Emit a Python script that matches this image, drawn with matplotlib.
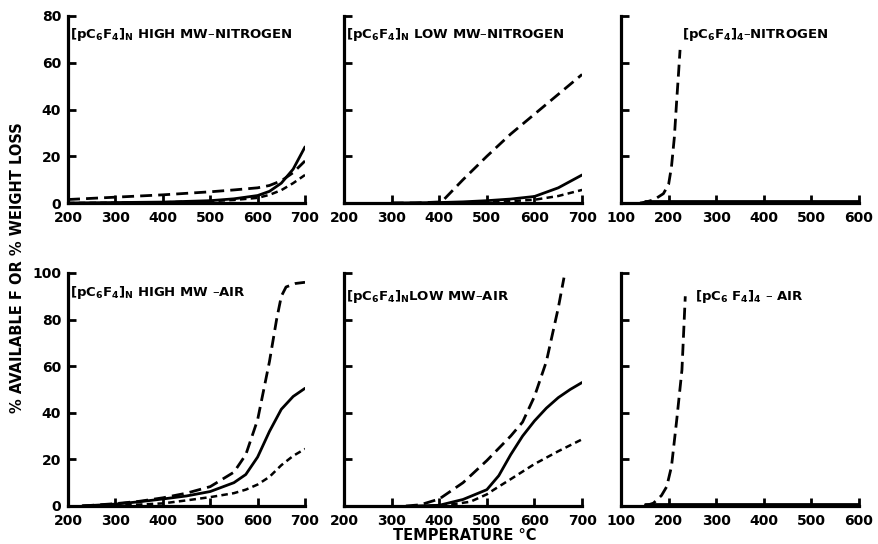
import matplotlib
matplotlib.use("Agg")
import matplotlib.pyplot as plt

plt.rcParams['font.family'] = ['DejaVu Sans']
plt.rcParams['font.weight'] = 'bold'
plt.rcParams['mathtext.fontset'] = 'dejavusans'
plt.rcParams['mathtext.default'] = 'bf'

# ---- data ----
# top left: high MW polymer, nitrogen
t_hmn = [200, 300, 400, 500, 550, 600, 625, 650, 675, 700]
hmn_solid = [0, 0.2, 0.4, 1.0, 1.8, 3.2, 5.0, 8.5, 14.5, 24]
hmn_long = [1.5, 2.5, 3.5, 4.8, 5.6, 6.5, 7.5, 9.5, 13, 18]
hmn_short = [0, 0.1, 0.3, 0.8, 1.3, 2.2, 3.5, 5.5, 8.5, 12]

# top middle: low MW polymer, nitrogen
t_lmn_long = [300, 350, 405, 450, 500, 550, 600, 650, 700]
lmn_long = [0, 0, 0.5, 10, 20, 29.5, 38, 46.5, 55]
t_lmn_solid = [300, 400, 450, 500, 550, 600, 650, 700]
lmn_solid = [0, 0.2, 0.5, 1.0, 1.7, 2.8, 6.5, 12]
t_lmn_short = [400, 500, 550, 600, 650, 700]
lmn_short = [0, 0.4, 0.8, 1.4, 3.0, 5.6]

# top right: tetramer, nitrogen
t_tn_long = [140, 154, 170, 189, 200, 206, 212, 217, 221, 224]
tn_long = [0, 0.5, 1.5, 4, 8, 15.5, 28, 44, 56, 65.5]
t_tn_base = [150, 600]
tn_solid = [0.9, 0.9]
tn_short = [0.4, 0.4]

# bottom left: high MW polymer, air
t_hma_long = [230, 300, 350, 400, 450, 500, 550, 575, 600, 625, 640, 650, 660, 680, 700]
hma_long = [0, 1, 2, 3.5, 5.5, 8.3, 14.5, 22, 37, 62, 80, 90, 94, 95.5, 96]
t_hma = [230, 300, 350, 400, 450, 500, 550, 575, 600, 625, 650, 675, 700]
hma_solid = [0, 0.8, 1.8, 3.0, 4.3, 6.2, 10, 13.5, 21, 32, 41.5, 47, 50.5]
hma_short = [0, 0.3, 0.6, 1.1, 2.4, 3.8, 5.5, 7.0, 9.2, 12.5, 17.5, 21.5, 24.5]

# bottom middle: low MW polymer, air
t_lma_long = [330, 360, 400, 450, 500, 550, 575, 600, 625, 650, 662]
lma_long = [0, 0.5, 3, 10, 19.5, 30, 36, 47, 62, 85, 98]
t_lma_solid = [350, 400, 450, 500, 525, 550, 575, 600, 625, 650, 675, 700]
lma_solid = [0, 0.3, 2.8, 7, 13, 22, 30, 36.5, 42, 46.5, 50, 53]
t_lma_short = [380, 420, 465, 500, 514, 550, 600, 650, 700]
lma_short = [0, 0.5, 1.8, 5, 6.9, 11.5, 18, 23.5, 28.6]

# bottom right: tetramer, air
t_ta_long = [150, 168, 185, 196, 206, 217, 228, 235]
ta_long = [0, 1.2, 4.5, 8.3, 16.9, 36.9, 58.4, 90]
t_ta_base = [150, 600]
ta_solid = [0.9, 0.9]
ta_short = [0.4, 0.4]

poly_ticks = [200, 300, 400, 500, 600, 700]
tetra_ticks = [100, 200, 300, 400, 500, 600]

LONG = (4.3, 2.2)
SHORT = (2.6, 1.7)

fig = plt.figure(figsize=(8.79, 5.44), dpi=100)

cols = [(0.0774, 0.2696), (0.3914, 0.2708), (0.7065, 0.2708)]
top_row = (0.6268, 0.3438)
bot_row = (0.0699, 0.4283)


def make_ax(col, row, xticks, ymax, ylabels):
    ax = fig.add_axes([cols[col][0], row[0], cols[col][1], row[1]])
    ax.set_xlim(xticks[0], xticks[-1])
    ax.set_ylim(0, ymax)
    ax.set_xticks(xticks)
    ax.set_yticks(range(0, ymax + 1, 20))
    for s in ['top', 'right']:
        ax.spines[s].set_visible(False)
    for s in ['left', 'bottom']:
        ax.spines[s].set_linewidth(2.3)
    ax.tick_params(direction='in', length=6, width=2, labelsize=10)
    ax.tick_params(axis='x', pad=6)
    ax.tick_params(axis='y', pad=5)
    if not ylabels:
        ax.set_yticklabels([])
    return ax


def curves(ax, tl, yl, ts, ys, tsh, ysh):
    ax.plot(ts, ys, color='black', lw=2.0, solid_capstyle='round')
    ax.plot(tl, yl, color='black', lw=2.0, dashes=LONG)
    ax.plot(tsh, ysh, color='black', lw=1.8, dashes=SHORT)


ax1 = make_ax(0, top_row, poly_ticks, 80, True)
curves(ax1, t_hmn, hmn_long, t_hmn, hmn_solid, t_hmn, hmn_short)
ax1.text(0.01, 0.90, r"$\left[\mathrm{pC_6F_4}\right]_{\mathrm{N}}$ HIGH MW–NITROGEN",
         transform=ax1.transAxes, fontsize=9.5, va='center')

ax2 = make_ax(1, top_row, poly_ticks, 80, False)
curves(ax2, t_lmn_long, lmn_long, t_lmn_solid, lmn_solid, t_lmn_short, lmn_short)
ax2.text(0.01, 0.90, r"$\left[\mathrm{pC_6F_4}\right]_{\mathrm{N}}$ LOW MW–NITROGEN",
         transform=ax2.transAxes, fontsize=9.5, va='center')

ax3 = make_ax(2, top_row, tetra_ticks, 80, False)
curves(ax3, t_tn_long, tn_long, t_tn_base, tn_solid, t_tn_base, tn_short)
ax3.text(0.255, 0.90, r"$\left[\mathrm{pC_6F_4}\right]_{\mathrm{4}}$–NITROGEN",
         transform=ax3.transAxes, fontsize=9.5, va='center')

ax4 = make_ax(0, bot_row, poly_ticks, 100, True)
curves(ax4, t_hma_long, hma_long, t_hma, hma_solid, t_hma, hma_short)
ax4.text(0.01, 0.915, r"$\left[\mathrm{pC_6F_4}\right]_{\mathrm{N}}$ HIGH MW –AIR",
         transform=ax4.transAxes, fontsize=9.5, va='center')

ax5 = make_ax(1, bot_row, poly_ticks, 100, False)
curves(ax5, t_lma_long, lma_long, t_lma_solid, lma_solid, t_lma_short, lma_short)
ax5.text(0.01, 0.90, r"$\left[\mathrm{pC_6F_4}\right]_{\mathrm{N}}$LOW MW–AIR",
         transform=ax5.transAxes, fontsize=9.5, va='center')

ax6 = make_ax(2, bot_row, tetra_ticks, 100, False)
curves(ax6, t_ta_long, ta_long, t_ta_base, ta_solid, t_ta_base, ta_short)
ax6.text(0.31, 0.90, r"$\left[\mathrm{pC_6\ F_4}\right]_{\mathrm{4}}$ – AIR",
         transform=ax6.transAxes, fontsize=9.5, va='center')

fig.text(18 / 879, 1 - 268 / 544, "% AVAILABLE F OR % WEIGHT LOSS", rotation=90,
         ha='center', va='center', fontsize=10.5, fontweight='bold')
fig.text(465 / 879, 1 - 536 / 544, "TEMPERATURE °C", ha='center', va='center',
         fontsize=10.5, fontweight='bold')

fig.savefig("out.png", dpi=100)
